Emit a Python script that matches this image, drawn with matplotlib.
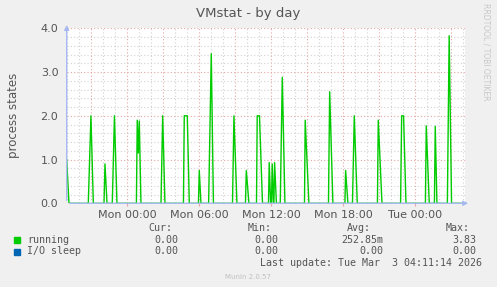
import matplotlib
matplotlib.use("Agg")
import matplotlib.pyplot as plt

# Zeit in Stunden relativ zu Mon 00:00, Werte = laufende Prozesse
hours = [-5.05, -4.86, -3.25, -3.03, -2.83, -1.94, -1.86, -1.69, -1.25, -1.07, -0.86,
         0.76, 0.83, 0.92, 1.0, 1.14, 2.81, 2.95, 3.14, 4.68, 4.75, 5.0, 5.17,
         5.93, 6.0, 6.14, 6.78, 7.0, 7.18, 8.77, 8.89, 9.14, 9.85, 9.92, 10.14,
         10.77, 10.83, 11.02, 11.27, 11.77, 11.83, 11.95, 12.02, 12.08, 12.18, 12.22,
         12.28, 12.43, 12.75, 12.92, 13.14, 14.77, 14.83, 15.14, 16.77, 16.87, 17.14,
         18.14, 18.2, 18.39, 18.77, 18.92, 19.17, 20.85, 20.92, 21.23, 22.78, 22.87,
         23.03, 23.23, 24.85, 24.92, 25.17, 25.6, 25.67, 25.81, 26.68, 26.83, 27.03, 28.15]
running = [1.0, 0, 0, 2.0, 0, 0, 0.9, 0, 0, 2.0, 0,
           0, 1.9, 1.15, 1.88, 0, 0, 2.0, 0, 0, 2.0, 2.0, 0,
           0, 0.75, 0, 0, 3.42, 0, 0, 2.0, 0, 0, 0.75, 0,
           0, 2.0, 2.0, 0, 0, 0.93, 0, 0, 0.9, 0, 0,
           0.93, 0, 0, 2.88, 0, 0, 1.9, 0, 0, 2.55, 0,
           0, 0.75, 0, 0, 2.0, 0, 0, 1.9, 0, 0, 2.0,
           2.0, 0, 0, 1.77, 0, 0, 1.76, 0, 0, 3.83, 0, 0]

tick_hours = [0, 6, 12, 18, 24]
tick_labels = ["Mon 00:00", "Mon 06:00", "Mon 12:00", "Mon 18:00", "Tue 00:00"]

legend_names = ["running", "I/O sleep"]
legend_colors = ["#00cc00", "#0066b3"]
cur = ["0.00", "0.00"]
mins = ["0.00", "0.00"]
avgs = ["252.85m", "0.00"]
maxs = ["3.83", "0.00"]

x_min, x_max = -5.05, 28.15

fig = plt.figure(figsize=(4.97, 2.87), dpi=100)
fig.patch.set_facecolor("#f0f0f0")
ax = fig.add_axes([66.7 / 497, 83.7 / 287, 398.3 / 497, 175 / 287])
ax.set_facecolor("white")
ax.set_xlim(x_min, x_max)
ax.set_ylim(0, 4)

# Gitter: grau jede Stunde / 0.2, rot alle 3 Stunden / 1.0
for h in range(-5, 29):
    major = h % 3 == 0
    ax.axvline(h, color="#e6a6a6" if major else "#d2d2d2", lw=0.8,
               ls=(0, (1, 2)), zorder=1)
for i in range(1, 21):
    y = i * 0.2
    major = i % 5 == 0
    ax.axhline(y, color="#e6a6a6" if major else "#d2d2d2", lw=0.8,
               ls=(0, (1, 2)), zorder=1)

ax.plot(hours, running, color="#00cc00", lw=1.0, zorder=3)

for s in ax.spines.values():
    s.set_visible(False)

ax.set_xticks(tick_hours)
ax.set_xticklabels(tick_labels)
ax.set_yticks([0, 1, 2, 3, 4])
ax.set_yticklabels(["0.0", "1.0", "2.0", "3.0", "4.0"])
ax.tick_params(axis="x", length=2, color="#e6a6a6", labelsize=8, labelcolor="#555555", pad=3)
ax.tick_params(axis="y", length=0, labelsize=8, labelcolor="#555555", pad=6)
ax.set_ylabel("process states", fontsize=8.5, color="#555555", labelpad=15)

# Achsen mit Pfeilen
axis_col = "#a8b8f0"
ax.annotate("", xy=(1.015, 0), xytext=(0, 0), xycoords="axes fraction",
            arrowprops=dict(arrowstyle="-|>", color=axis_col, lw=1, mutation_scale=7),
            annotation_clip=False)
ax.annotate("", xy=(0, 1.035), xytext=(0, 0), xycoords="axes fraction",
            arrowprops=dict(arrowstyle="-|>", color=axis_col, lw=1, mutation_scale=7),
            annotation_clip=False)

fig.text(0.5, 1 - 13 / 287, "VMstat - by day", ha="center", va="center",
         fontsize=9.5, color="#555555")
fig.text(486 / 497, 1 - 52 / 287, "RRDTOOL / TOBI OETIKER", rotation=-90,
         ha="center", va="center", fontsize=5.5, color="#c8c8c8")

mono = "DejaVu Sans Mono"
fs = 7.2
fig.text(172 / 497, 1 - 228 / 287, "Cur:", ha="right", va="center", family=mono, fontsize=fs, color="#555555")
fig.text(272 / 497, 1 - 228 / 287, "Min:", ha="right", va="center", family=mono, fontsize=fs, color="#555555")
fig.text(371 / 497, 1 - 228 / 287, "Avg:", ha="right", va="center", family=mono, fontsize=fs, color="#555555")
fig.text(470 / 497, 1 - 228 / 287, "Max:", ha="right", va="center", family=mono, fontsize=fs, color="#555555")

for i, name in enumerate(legend_names):
    y = 1 - (240 + i * 11.5) / 287
    fig.patches.append(plt.Rectangle((14 / 497, y - 3 / 287), 6 / 497, 6 / 287,
                                     transform=fig.transFigure, color=legend_colors[i]))
    fig.text(27 / 497, y, name, ha="left", va="center", family=mono, fontsize=fs, color="#555555")
    fig.text(178 / 497, y, cur[i], ha="right", va="center", family=mono, fontsize=fs, color="#555555")
    fig.text(278 / 497, y, mins[i], ha="right", va="center", family=mono, fontsize=fs, color="#555555")
    fig.text(383 / 497, y, avgs[i], ha="right", va="center", family=mono, fontsize=fs, color="#555555")
    fig.text(476 / 497, y, maxs[i], ha="right", va="center", family=mono, fontsize=fs, color="#555555")

fig.text(482 / 497, 1 - 263 / 287, "Last update: Tue Mar  3 04:11:14 2026", ha="right",
         va="center", family=mono, fontsize=fs, color="#555555")
fig.text(248 / 497, 1 - 277 / 287, "Munin 2.0.57", ha="center", va="center",
         fontsize=5, color="#c0c0c0")

fig.savefig("out.png", dpi=100, facecolor=fig.get_facecolor())
